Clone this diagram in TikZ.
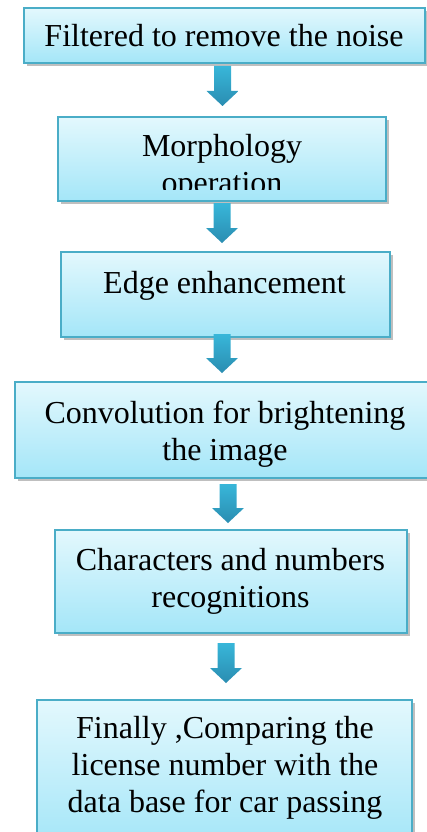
\documentclass[tikz,border=0pt]{standalone}
\usepackage{fontspec}
\setmainfont{Liberation Serif}
\usetikzlibrary{calc,shadows}
\definecolor{boxtop}{HTML}{E3F8FD}
\definecolor{boxbottom}{HTML}{A4E6F8}
\definecolor{boxline}{HTML}{4AADC7}
\definecolor{arrowtop}{HTML}{38B6D9}
\definecolor{arrowbottom}{HTML}{2A8DB1}
\tikzset{
  stepbox/.style={rectangle, inner sep=0pt, draw=boxline, line width=1.4pt,
    top color=boxtop, bottom color=boxbottom,
    drop shadow={shadow xshift=2.5pt, shadow yshift=-3pt, fill=black, opacity=0.25}},
  steptext/.style={font=\fontsize{32}{37}\selectfont, align=center, anchor=base, inner sep=0pt},
  arrowshade/.style={top color=arrowtop, bottom color=arrowbottom, draw=none}
}
% box from corner (x1,y1) to (x2,y2), y measured downwards
\newcommand\flowbox[5]{%
  \node[stepbox, minimum width=#4pt-#2pt, minimum height=#5pt-#3pt]
    (#1) at ({(#2+#4)/2}, {-(#3+#5)/2}) {};}
% block arrow from a start coordinate to a tip coordinate
\newcommand\blockarrow[2]{%
  \shade[arrowshade] let \p1=(#1), \p2=(#2) in
    (\x1-8.5pt,\y1) -- (\x1+8.5pt,\y1) -- (\x1+8.5pt,\y2+15pt)
    -- (\x1+16pt,\y2+15pt) -- (\x2,\y2) -- (\x1-16pt,\y2+15pt)
    -- (\x1-8.5pt,\y2+15pt) -- cycle;}
\begin{document}
\begin{tikzpicture}[x=1pt,y=1pt]
\useasboundingbox (0,0) rectangle (426,-832);

% boxes
\flowbox{b1}{24}{8}{425}{63}
\flowbox{b2}{58}{117}{386}{201}
\flowbox{b3}{61}{252}{390}{337}
\flowbox{b4}{15}{382}{428}{478}
\flowbox{b5}{55}{530}{407}{633}
\flowbox{b6}{37}{700}{412}{845}

% texts (anchored at the baseline of the last line)
\node[steptext] (t1) at (224,-47) {Filtered to remove the noise};
\begin{scope}
  \clip ($(b2.north west)+(0,-2)$) rectangle (386,-189.5);
  \node[steptext] (t2) at (222,-193) {Morphology\\operation};
\end{scope}
\node[steptext] (t3) at (224.5,-293) {Edge enhancement};
\node[steptext] (t4) at (225,-460) {Convolution for brightening\\the image};
\node[steptext] (t5) at (230.5,-607) {Characters and numbers\\recognitions};
\node[steptext] (t6) at (225,-812) {Finally ,Comparing the\\license number with the\\data base for car passing};

% arrows between the steps
\coordinate (a1s) at (222.5,-66);  \coordinate (a1e) at (222.5,-106);
\coordinate (a2s) at (222,-203);   \coordinate (a2e) at (222,-243);
\coordinate (a3s) at (222,-334);   \coordinate (a3e) at (222,-373);
\coordinate (a4s) at (228,-484);   \coordinate (a4e) at (228,-523);
\coordinate (a5s) at (226,-643);   \coordinate (a5e) at (226,-683);
\blockarrow{a1s}{a1e}
\blockarrow{a2s}{a2e}
\blockarrow{a3s}{a3e}
\blockarrow{a4s}{a4e}
\blockarrow{a5s}{a5e}
\end{tikzpicture}
\end{document}
